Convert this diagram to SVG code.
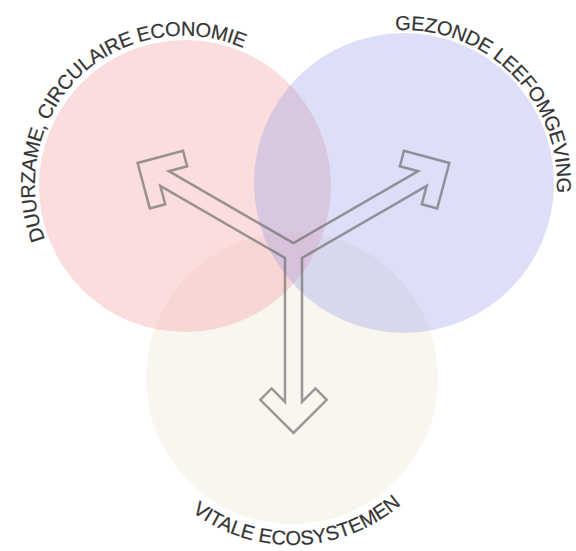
<svg xmlns="http://www.w3.org/2000/svg" width="576" height="551" viewBox="0 0 576 551">
  <style>
    .lbl { font-family: "Liberation Sans", Arial, sans-serif; font-size: 20px; fill: #353535; stroke: #353535; stroke-width: 0.2; }
    .top { letter-spacing: -0.3px; }
    .arrow { fill: none; stroke: #707070; stroke-opacity: 0.7; stroke-width: 2.5; stroke-linejoin: miter; }
  </style>
  <defs>
    <filter id="soft" x="-5%" y="-5%" width="110%" height="110%">
      <feGaussianBlur stdDeviation="0.5"/>
    </filter>
    <path id="pRed" d="M 290.6 295.3 A 152 152 0 0 1 79.4 76.7 A 152 152 0 0 1 290.6 295.3"/>
    <path id="pBlue" d="M 295.4 290.8 A 153 153 0 0 1 512.6 75.2 A 153 153 0 0 1 295.4 290.8"/>
    <path id="pBeige" d="M 286.17 211.1 A 167 167 0 0 0 297.83 544.9 A 167 167 0 0 0 286.17 211.1"/>
  </defs>
  <rect width="576" height="551" fill="#ffffff"/>

  <g id="node-vitale">
    <circle cx="292" cy="378" r="146" fill="#e8dcc4" fill-opacity="0.28"/>
    <text class="lbl"><textPath href="#pBeige" startOffset="50%" text-anchor="middle">VITALE ECOSYSTEMEN</textPath></text>
  </g>
  <g id="node-duurzame">
    <circle cx="185" cy="186" r="146" fill="#f4a0a4" fill-opacity="0.36"/>
    <text class="lbl top"><textPath href="#pRed" startOffset="50%" text-anchor="middle">DUURZAME, CIRCULAIRE ECONOMIE</textPath></text>
  </g>
  <g id="node-gezonde">
    <circle cx="404" cy="183" r="150" fill="#8c96e6" fill-opacity="0.3"/>
    <text class="lbl top"><textPath href="#pBlue" startOffset="50%" text-anchor="middle">GEZONDE LEEFOMGEVING</textPath></text>
  </g>

  <g id="connectors">
    <path class="arrow" filter="url(#soft)" d="M 293.5 243.18 L 168.82 171.2 L 187.15 166.29 L 183.02 150.83 L 137.62 163 L 149.78 208.39 L 165.23 204.25 L 160.32 185.92 L 285 257.91 L 285 401.88 L 271.58 388.46 L 260.27 399.77 L 293.5 433 L 326.73 399.77 L 315.42 388.46 L 302 401.88 L 302 257.91 L 426.68 185.92 L 421.77 204.25 L 437.22 208.39 L 449.38 163 L 403.98 150.83 L 399.85 166.29 L 418.18 171.2 Z"/>
  </g>
</svg>
